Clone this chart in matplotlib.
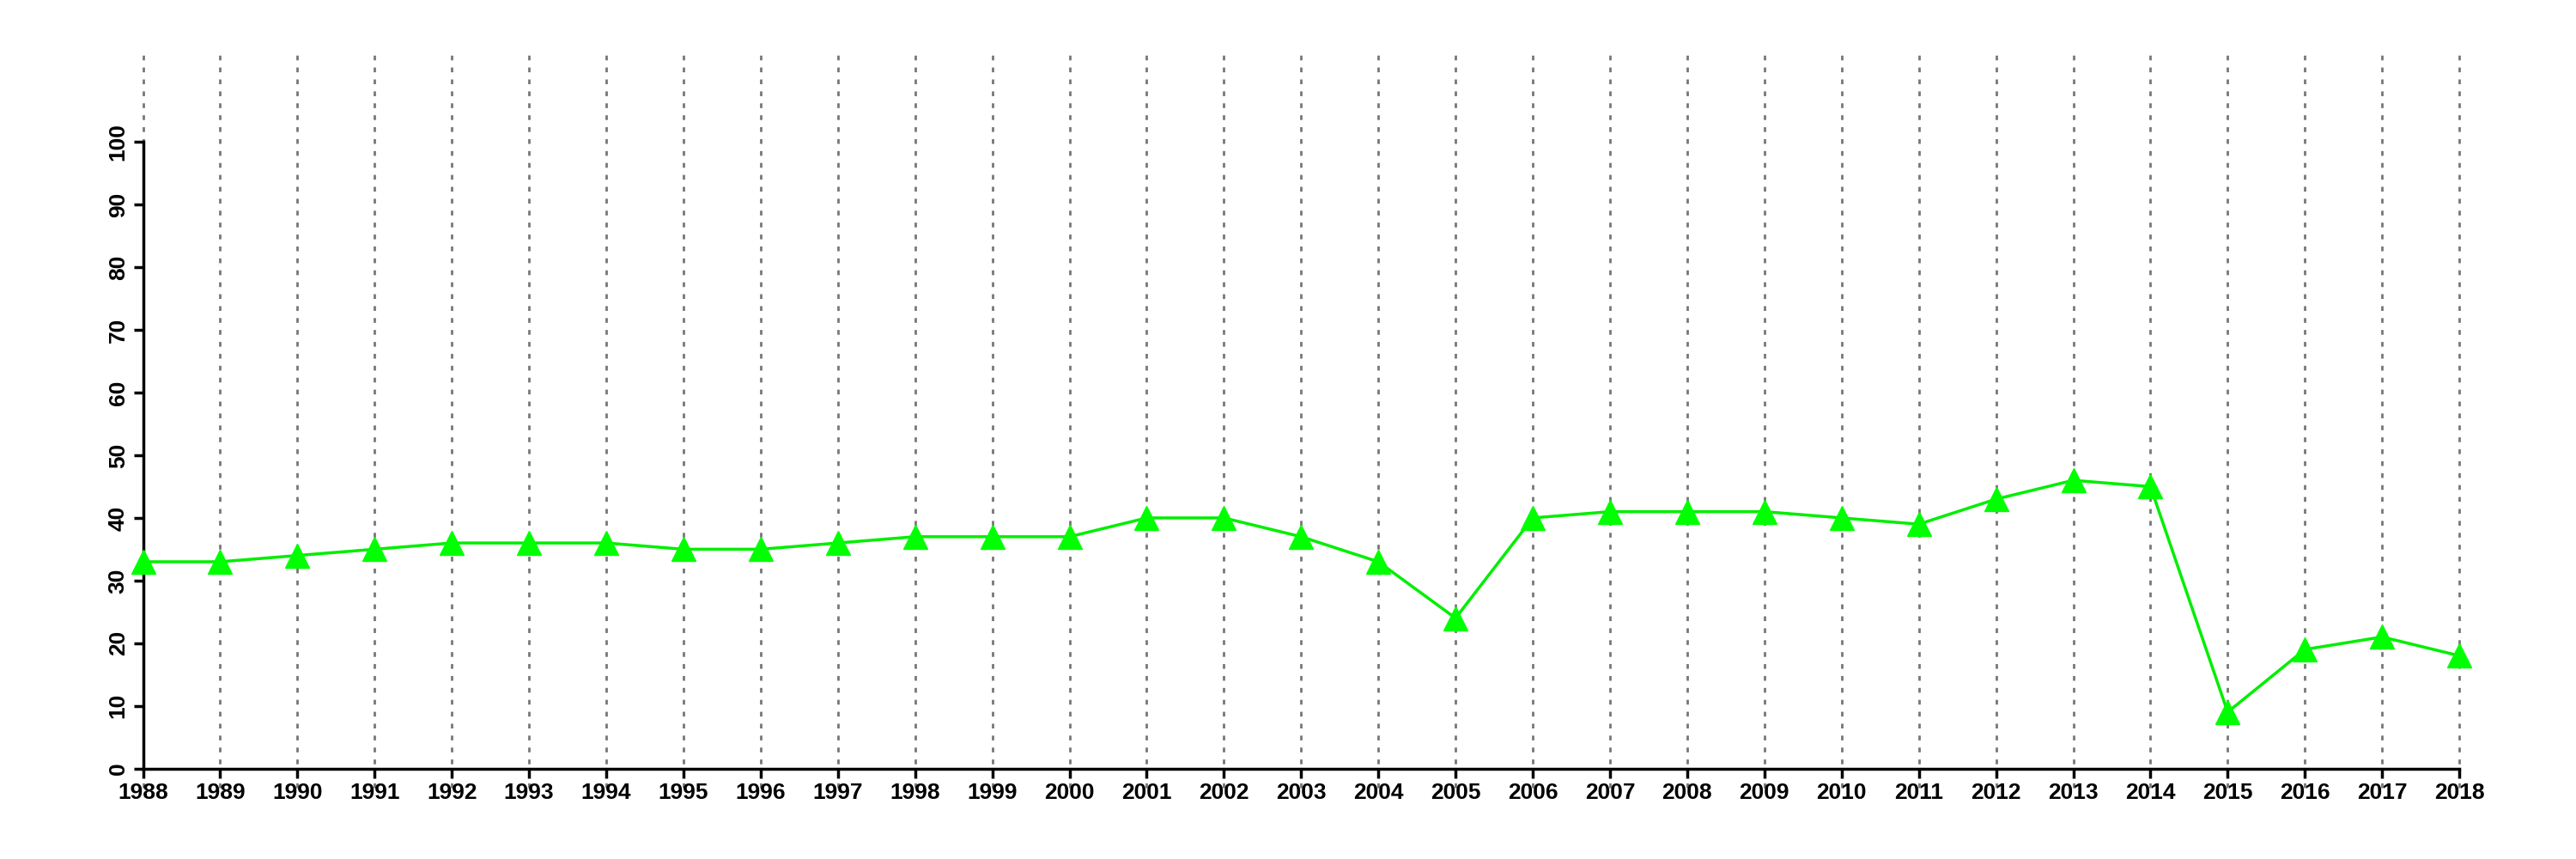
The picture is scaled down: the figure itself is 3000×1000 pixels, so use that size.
import numpy as np
import matplotlib
matplotlib.use("Agg")
import matplotlib.pyplot as plt

years = list(range(1988, 2019))
values = [33, 33, 34, 35, 36, 36, 36, 35, 35, 36, 37, 37, 37, 40, 40, 37, 33, 24,
          40, 41, 41, 41, 40, 39, 43, 46, 45, 9, 19, 21, 18]
yticks = [0, 10, 20, 30, 40, 50, 60, 70, 80, 90, 100]

plt.rcParams['font.family'] = ['Liberation Sans', 'DejaVu Sans']

fig = plt.figure(figsize=(30, 10), dpi=100)
ax = fig.add_axes([0.0555, 0.0835, 0.8992, 0.8605])

# dotted verticals at every year
for yr in years:
    ax.axvline(yr, color='#777777', linestyle=(0, (2, 3)), linewidth=2, zorder=1,
               clip_on=False)

ax.plot(years, values, color='#00ee00', linewidth=2.5, marker='^',
        markersize=20, markerfacecolor='#00ff00', markeredgecolor='#00ff00',
        zorder=3, clip_on=False)

ax.set_xlim(1988, 2018)
ax.set_ylim(-3, 115)

for s in ['top', 'right']:
    ax.spines[s].set_visible(False)
ax.spines['left'].set_bounds(0, 100)
ax.spines['bottom'].set_position(('data', 0))
ax.spines['bottom'].set_bounds(1988, 2018)
ax.spines['left'].set_linewidth(2.5)
ax.spines['bottom'].set_linewidth(2.5)

ax.set_xticks(years)
ax.set_xticklabels([str(y) for y in years], fontsize=19, fontweight='bold')
ax.set_yticks(yticks)
ax.set_yticklabels([str(v) for v in yticks], fontsize=19, fontweight='bold',
                   rotation=90, va='center')
ax.tick_params(axis='both', direction='out', length=8, width=2.5, pad=4)

fig.savefig('out.png', dpi=100, facecolor='white')
